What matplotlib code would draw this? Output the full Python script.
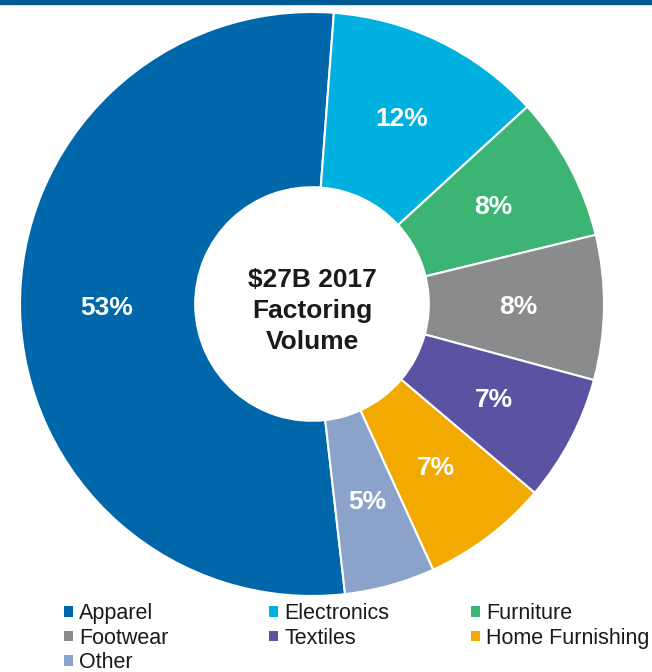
import matplotlib
matplotlib.use('Agg')
import matplotlib.pyplot as plt
from matplotlib.patches import Patch, Rectangle

plt.rcParams['font.family'] = ['Liberation Sans', 'DejaVu Sans']

# data
categories = ['Apparel', 'Electronics', 'Furniture', 'Footwear', 'Textiles',
              'Home Furnishing', 'Other']
shares = [53, 12, 8, 8, 7, 7, 5]
colours = ['#0067ab', '#00b1df', '#3cb574', '#898b8d', '#5b53a2',
           '#f2a900', '#8ba2ca']
centre_text = '$27B 2017\nFactoring\nVolume'

W, H = 652, 672
fig = plt.figure(figsize=(W/100., H/100.), dpi=100)

# dark strip across the top
fig.patches.append(Rectangle((0, 1-4./H), 1, 4./H, transform=fig.transFigure,
                             color='#005a94', zorder=0))

# pie centred at (312,304) px, radius 292 px
cx, cy, r = 312, 304, 292
ax = fig.add_axes([(cx-r)/W, (H-cy-r)/H, 2*r/W, 2*r/H])
wedges, texts, autotexts = ax.pie(
    shares, colors=colours, startangle=276.5, counterclock=False,
    autopct=lambda p: '%d%%' % round(p), pctdistance=0.705,
    wedgeprops=dict(width=0.6, edgecolor='white', linewidth=1.5),
    textprops=dict(color='white', fontsize=19, fontweight='bold'))
ax.set_xlim(-1, 1)
ax.set_ylim(-1, 1)
ax.set_aspect('equal')
ax.text(0, -7./r, centre_text, ha='center', va='center', fontsize=19,
        fontweight='bold', color='#1a1a1a', linespacing=1.38)

# legend, three columns filled row by row
cols = [[0, 3, 6], [1, 4], [2, 5]]
col_x = [64, 269, 471]
for idxs, x in zip(cols, col_x):
    handles = [Patch(facecolor=colours[i], edgecolor='none', label=categories[i])
               for i in idxs]
    fig.legend(handles=handles, loc='upper left',
               bbox_to_anchor=(x/float(W), 1-603./H), frameon=False,
               fontsize=15.5, handlelength=0.4, handleheight=0.4,
               handletextpad=0.3, labelspacing=0.17, borderpad=0,
               borderaxespad=0, labelcolor='#1a1a1a')

fig.savefig('out.png', dpi=100)
